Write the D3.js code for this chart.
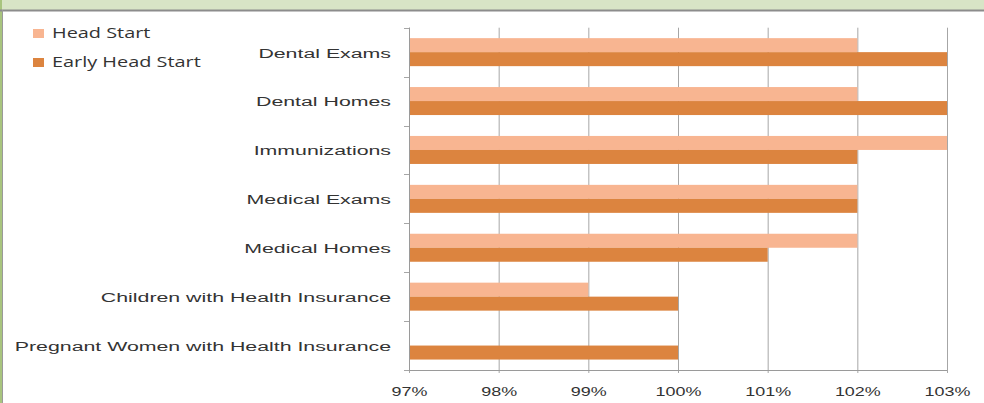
<!doctype html>
<html lang="en">
<head>
<meta charset="utf-8">
<script src="https://d3js.org/d3.v7.min.js"></script>
<style>
body { margin: 0; background: #fff; }
svg { display: block; font-family: "Open Sans", sans-serif; }
.axis path { stroke: #9a9a9a; }
.axis line { stroke: #a6a6a6; }
.axis text { fill: #333; font-size: 13.5px; }
</style>
</head>
<body>
<div id="vis"></div>
<script>
// categories top to bottom
var categories = ["Dental Exams", "Dental Homes", "Immunizations", "Medical Exams",
                  "Medical Homes", "Children with Health Insurance", "Pregnant Women with Health Insurance"];
var series = ["Head Start", "Early Head Start"];
var headStart      = [102, 102, 103, 102, 102, 99, null];
var earlyHeadStart = [103, 103, 102, 102, 101, 100, 100];
var tickValues = [97, 98, 99, 100, 101, 102, 103];
var colors = ["#f8b591", "#dc843f"];

var W = 984, H = 403;
var svg = d3.select("#vis").append("svg").attr("width", W).attr("height", H);

// frame: green strip on top and left
svg.append("rect").attr("x", 0).attr("y", 0).attr("width", W).attr("height", 10).attr("fill", "#d8e4c6");
svg.append("rect").attr("x", 0).attr("y", 0).attr("width", 2).attr("height", H).attr("fill", "#a8c47e");
svg.append("line").attr("x1", 0).attr("x2", W).attr("y1", 10.5).attr("y2", 10.5).attr("stroke", "#8c8c8c").attr("stroke-width", 2);
svg.append("line").attr("x1", 2.5).attr("x2", 2.5).attr("y1", 10).attr("y2", H).attr("stroke", "#9a9a9a").attr("stroke-width", 1);

var plotTop = 27.7, plotBottom = 370;
var x = d3.scaleLinear().domain([97, 103]).range([409, 947]);
var y = d3.scaleBand().domain(categories).range([plotTop, plotBottom]);
var inner = d3.scaleBand().domain(series).range([y.bandwidth() / 2 - 14, y.bandwidth() / 2 + 14]);

// gridlines + bottom axis (the source text is stretched sideways, hence the scale)
var xAxis = d3.axisBottom(x).tickValues(tickValues).tickSize(-(plotBottom - plotTop)).tickPadding(16)
    .tickFormat(function(d) { return d + "%"; });
var gx = svg.append("g").attr("class", "axis").attr("transform", "translate(0," + plotBottom + ")").call(xAxis);
gx.select(".domain").remove();
gx.selectAll(".tick line").attr("y2", -(plotBottom - plotTop)).attr("y1", 3);
gx.selectAll(".tick text").attr("transform", "scale(1.33,1)");
svg.append("line").attr("x1", 404).attr("x2", 947).attr("y1", plotBottom + 0.5).attr("y2", plotBottom + 0.5).attr("stroke", "#9a9a9a");

// bars
var rows = categories.map(function(c, i) { return { cat: c, vals: [headStart[i], earlyHeadStart[i]] }; });
var groups = svg.selectAll(".row").data(rows).enter().append("g")
    .attr("transform", function(d) { return "translate(0," + y(d.cat) + ")"; });
groups.selectAll("rect")
    .data(function(d) { return d.vals.map(function(v, j) { return { s: series[j], v: v, j: j }; }).filter(function(e) { return e.v != null; }); })
    .enter().append("rect")
    .attr("x", x(97))
    .attr("y", function(d) { return inner(d.s); })
    .attr("width", function(d) { return x(d.v) - x(97); })
    .attr("height", inner.bandwidth())
    .attr("fill", function(d) { return colors[d.j]; });

// y axis
var yAxis = d3.axisLeft(y).tickSize(0);
var gy = svg.append("g").attr("class", "axis").attr("transform", "translate(409,0)").call(yAxis);
gy.select(".domain").attr("d", "M0.5," + plotTop + "V" + plotBottom);
gy.selectAll(".tick text").attr("x", null).attr("dy", "0.4em")
    .attr("transform", "translate(-18,0) scale(1.58,1)");
var bounds = categories.map(function(c) { return y(c); }).concat([plotBottom]);
gy.selectAll(".bnd").data(bounds).enter().append("line").attr("class", "bnd")
    .attr("x1", -5).attr("x2", 0)
    .attr("y1", function(d) { return Math.round(d) + 0.5; })
    .attr("y2", function(d) { return Math.round(d) + 0.5; });

// legend
var leg = svg.selectAll(".leg").data(series).enter().append("g")
    .attr("transform", function(d, i) { return "translate(33," + (29 + i * 29) + ")"; });
leg.append("rect").attr("width", 11).attr("height", 9).attr("fill", function(d, i) { return colors[i]; });
leg.append("text").attr("transform", "translate(19,9) scale(1.42,1)").attr("fill", "#333")
    .style("font-size", "14px").text(function(d) { return d; });
</script>
</body>
</html>
